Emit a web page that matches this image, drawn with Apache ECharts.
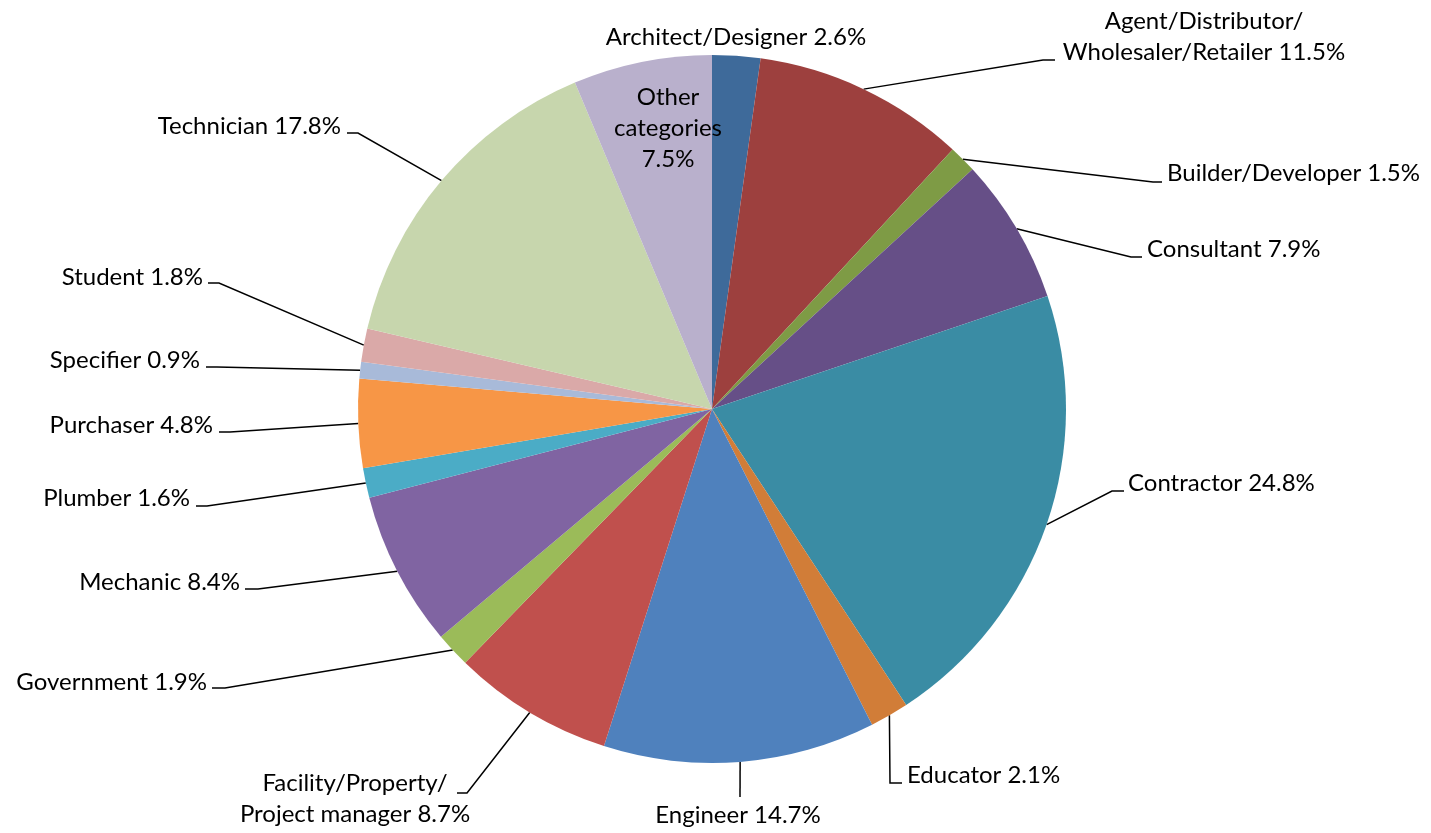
<!DOCTYPE html>
<html>
<head>
<meta charset="utf-8">
<script src="https://cdn.jsdelivr.net/npm/echarts@6/dist/echarts.min.js"></script>
<style>
  html, body { margin: 0; padding: 0; background: #ffffff; }
  #chart { width: 1431px; height: 833px; }
</style>
</head>
<body>
<div id="chart"></div>
<script>
// ---- data ----
const categories = [
  "Architect/Designer",
  "Agent/Distributor/\nWholesaler/Retailer",
  "Builder/Developer",
  "Consultant",
  "Contractor",
  "Educator",
  "Engineer",
  "Facility/Property/\nProject manager",
  "Government",
  "Mechanic",
  "Plumber",
  "Purchaser",
  "Specifier",
  "Student",
  "Technician",
  "Other\ncategories"
];
const values = [2.6, 11.5, 1.5, 7.9, 24.8, 2.1, 14.7, 8.7, 1.9, 8.4, 1.6, 4.8, 0.9, 1.8, 17.8, 7.5];

// ---- styles ----
const colors = [
  "#3E6A9A", "#9D403E", "#7E9B45", "#664F87", "#3A8CA4", "#D17D38",
  "#4F81BD", "#C0504D", "#9BBB59", "#8064A2", "#4BACC6", "#F79646",
  "#A8BAD9", "#DAA9A8", "#C7D6AD", "#B9B0CC"
];

// label layout: [textX, textY, align, elbowX, elbowY, endX, endY, separator]
const labelSpots = [
  [736, 37, "center", null, null, null, null, " "],
  [1204, 37, "center", 1043, 60, 1055, 60, " "],
  [1167, 173, "left", 1153, 182, 1162, 182, " "],
  [1147, 249, "left", 1131, 257, 1142, 257, " "],
  [1128, 483, "left", 1112, 491, 1124, 491, " "],
  [907, 775, "left", 890, 783, 902, 783, " "],
  [738, 815, "center", 740, 797, 740, 797, " "],
  [355, 799, "center", 467, 793, 457, 793, " "],
  [207, 682, "right", 225, 688, 212, 688, " "],
  [240, 582, "right", 258, 589, 245, 589, " "],
  [190, 498, "right", 207, 506, 196, 506, " "],
  [213, 425, "right", 230, 432, 219, 432, " "],
  [200, 360, "right", 217, 367, 206, 367, " "],
  [203, 277, "right", 219, 283, 208, 283, " "],
  [341, 126, "right", 358, 133, 347, 133, " "],
  [668, 128, "center", null, null, null, null, "\n"]
];

const chart = echarts.init(document.getElementById('chart'), null, { renderer: 'canvas' });

const pieData = categories.map((name, i) => ({
  name: name,
  value: values[i],
  itemStyle: { color: colors[i] },
  labelLine: { show: labelSpots[i][3] !== null }
}));

chart.setOption({
  backgroundColor: '#ffffff',
  animation: false,
  series: [{
    type: 'pie',
    center: [712, 409],
    radius: 354,
    startAngle: 90,
    clockwise: true,
    avoidLabelOverlap: false,
    data: pieData,
    itemStyle: { borderWidth: 0 },
    label: {
      show: true,
      position: 'outside',
      color: '#000000',
      fontFamily: 'Lato, "Open Sans", sans-serif',
      fontSize: 24,
      lineHeight: 31,
      formatter: function (p) {
        return p.name + labelSpots[p.dataIndex][7] + p.value.toFixed(1) + '%';
      }
    },
    labelLine: {
      show: true,
      length: 20,
      length2: 10,
      smooth: false,
      lineStyle: { color: '#000000', width: 1.5 }
    },
    labelLayout: function (params) {
      const s = labelSpots[params.dataIndex];
      const out = {
        x: s[0],
        y: s[1],
        align: s[2],
        verticalAlign: 'middle',
        hideOverlap: false,
        moveOverlap: null
      };
      if (s[3] !== null && params.labelLinePoints) {
        const start = params.labelLinePoints[0];
        out.labelLinePoints = [start, [s[3], s[4]], [s[5], s[6]]];
      }
      return out;
    }
  }]
});
</script>
</body>
</html>
